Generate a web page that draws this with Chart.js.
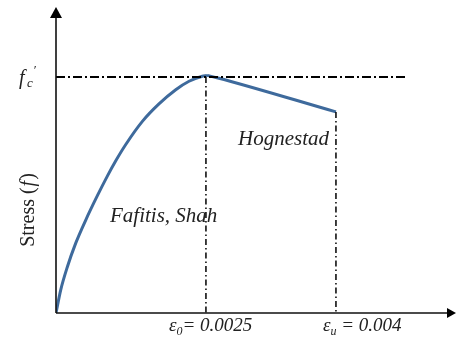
<!DOCTYPE html>
<html>
<head>
<meta charset="utf-8">
<script src="https://cdn.jsdelivr.net/npm/chart.js@4"></script>
<style>
  html, body { margin: 0; padding: 0; background: #fff; }
  #wrap { width: 457px; height: 338px; position: relative; }
</style>
</head>
<body>
<div id="wrap"><canvas id="chart"></canvas></div>
<script>
// Strain normalised by eps0 (schematic axis), stress normalised by fc'
const riseStrain = [0, 0.031, 0.075, 0.130, 0.197, 0.274, 0.340, 0.395, 0.462, 0.572, 0.682, 0.793, 0.881, 0.969, 1.0];
const riseStress = [0, 0.097, 0.195, 0.295, 0.394, 0.497, 0.580, 0.644, 0.714, 0.812, 0.886, 0.946, 0.982, 1.003, 1.007];
const fallStrain = [1.0, 1.066, 1.854];
const fallStress = [1.007, 0.997, 0.852];

const peakStrain = 0.993;
const ultStrain = 1.854;
const fcLineEnd = 2.318;

const tickPos = [peakStrain, ultStrain];
const tickMain = ['\u03b5', '\u03b5'];
const tickSub = ['0', 'u'];
const tickRest = ['= 0.0025', ' = 0.004'];

const xMax = 2.649;
const yMax = 1.2966;

const pts = (xs, ys) => xs.map((x, i) => ({ x: x, y: ys[i] }));

// axes, arrows and text
const decor = {
  id: 'decor',
  afterDraw(chart) {
    const ctx = chart.ctx;
    const x = chart.scales.x, y = chart.scales.y;
    const x0 = x.getPixelForValue(0), y0 = y.getPixelForValue(0);
    const xEnd = x.getPixelForValue(xMax), yEnd = y.getPixelForValue(yMax);
    ctx.save();
    ctx.strokeStyle = '#111';
    ctx.fillStyle = '#000';
    ctx.lineWidth = 1.6;
    ctx.beginPath();
    ctx.moveTo(x0, y0);
    ctx.lineTo(x0, yEnd + 8);
    ctx.moveTo(x0, y0);
    ctx.lineTo(xEnd - 8, y0);
    ctx.stroke();
    // arrow heads
    ctx.beginPath();
    ctx.moveTo(x0, yEnd);
    ctx.lineTo(x0 - 6, yEnd + 11);
    ctx.lineTo(x0 + 6, yEnd + 11);
    ctx.closePath();
    ctx.fill();
    ctx.beginPath();
    ctx.moveTo(xEnd, y0);
    ctx.lineTo(xEnd - 9, y0 - 5);
    ctx.lineTo(xEnd - 9, y0 + 5);
    ctx.closePath();
    ctx.fill();

    ctx.fillStyle = '#222';
    // fc' label
    const fcY = y.getPixelForValue(1);
    ctx.font = 'italic 20px "Liberation Serif"';
    ctx.textBaseline = 'alphabetic';
    ctx.fillText('f', 19, fcY + 7);
    ctx.font = 'italic 13px "Liberation Serif"';
    ctx.fillText('c', 27, fcY + 10);
    ctx.fillText('\u2032', 33, fcY - 3);

    // y title
    ctx.save();
    ctx.translate(34, 210);
    ctx.rotate(-Math.PI / 2);
    ctx.font = '20px "Liberation Serif"';
    const w1 = ctx.measureText('Stress (').width;
    const w3 = ctx.measureText(')').width;
    ctx.font = 'italic 20px "Liberation Serif"';
    const w2 = ctx.measureText('f').width + 2;
    let tx = -(w1 + w2 + w3) / 2;
    ctx.textAlign = 'left';
    ctx.font = '20px "Liberation Serif"';
    ctx.fillText('Stress (', tx, 0);
    ctx.font = 'italic 20px "Liberation Serif"';
    ctx.fillText('f', tx + w1 + 1, 0);
    ctx.font = '20px "Liberation Serif"';
    ctx.fillText(')', tx + w1 + w2, 0);
    ctx.restore();

    // curve names
    ctx.font = 'italic 21px "Liberation Serif"';
    ctx.textAlign = 'left';
    ctx.fillText('Fafitis, Shah', 110, 222);
    ctx.fillText('Hognestad', 238, 145);

    // strain ticks
    tickPos.forEach((v, i) => {
      const px = x.getPixelForValue(v);
      let left = px - 37 + (i === 1 ? 24 : 0);
      const base = 331;
      ctx.font = 'italic 19px "Liberation Serif"';
      ctx.fillText(tickMain[i], left, base);
      left += ctx.measureText(tickMain[i]).width;
      ctx.font = 'italic 12px "Liberation Serif"';
      ctx.fillText(tickSub[i], left, base + 4);
      left += ctx.measureText(tickSub[i]).width;
      ctx.font = 'italic 19px "Liberation Serif"';
      ctx.fillText(tickRest[i], left, base);
    });
    ctx.restore();
  }
};

const dashDot = [9, 3, 2, 3];

new Chart(document.getElementById('chart'), {
  type: 'scatter',
  data: {
    datasets: [
      {
        data: [{ x: 0, y: 1 }, { x: fcLineEnd, y: 1 }],
        showLine: true, borderColor: '#000', borderWidth: 2, borderDash: dashDot,
        pointRadius: 0
      },
      {
        data: [{ x: peakStrain, y: 1 }, { x: peakStrain, y: 0 }],
        showLine: true, borderColor: '#000', borderWidth: 1.5, borderDash: [6, 3, 1.5, 3],
        pointRadius: 0
      },
      {
        data: [{ x: ultStrain, y: fallStress[2] }, { x: ultStrain, y: 0 }],
        showLine: true, borderColor: '#000', borderWidth: 1.5, borderDash: [6, 3, 1.5, 3],
        pointRadius: 0
      },
      {
        label: 'Fafitis, Shah',
        data: pts(riseStrain, riseStress),
        showLine: true, borderColor: '#3e6a9c', borderWidth: 3,
        cubicInterpolationMode: 'monotone', pointRadius: 0
      },
      {
        label: 'Hognestad',
        data: pts(fallStrain, fallStress),
        showLine: true, borderColor: '#3e6a9c', borderWidth: 3,
        cubicInterpolationMode: 'monotone', pointRadius: 0
      }
    ]
  },
  options: {
    responsive: true,
    maintainAspectRatio: false,
    animation: false,
    layout: { padding: { left: 56, right: 1, top: 7, bottom: 25 } },
    plugins: { legend: { display: false }, tooltip: { enabled: false } },
    scales: {
      x: { type: 'linear', min: 0, max: xMax, display: false },
      y: { type: 'linear', min: 0, max: yMax, display: false }
    }
  },
  plugins: [decor]
});
</script>
</body>
</html>
